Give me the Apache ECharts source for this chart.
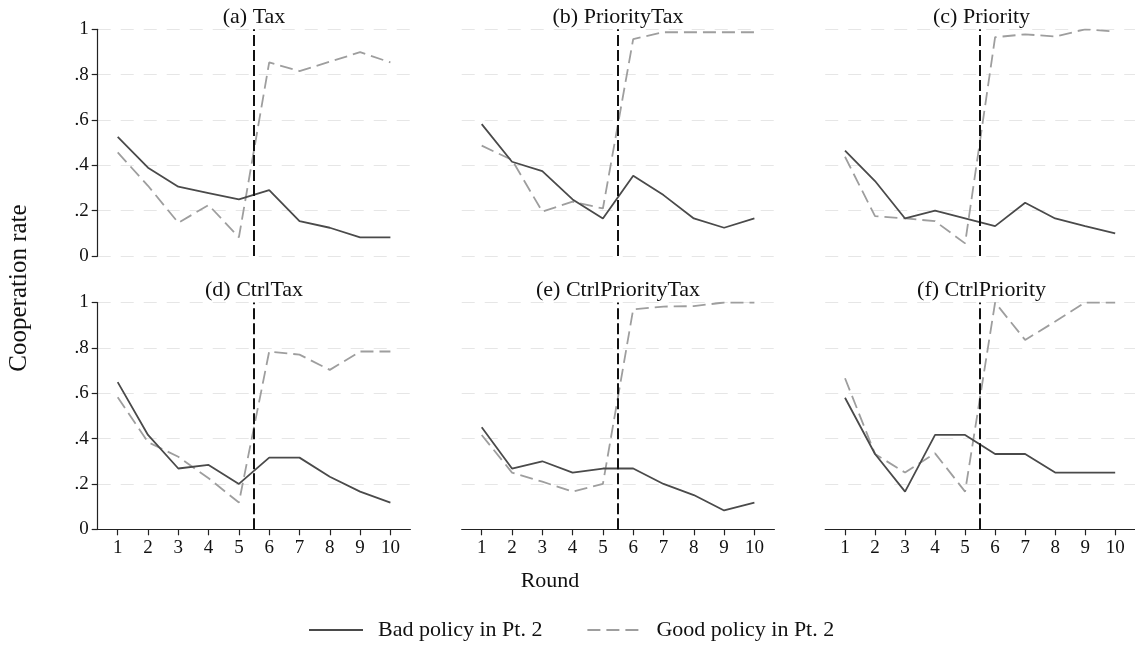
<!DOCTYPE html>
<html>
<head>
<meta charset="utf-8">
<script src="https://cdn.jsdelivr.net/npm/echarts@6/dist/echarts.min.js"></script>
<style>
  html, body { margin: 0; padding: 0; background: #ffffff; }
  #chart { width: 1135px; height: 651px; }
</style>
</head>
<body>
<div id="chart"></div>
<script>
// Cooperation rate by round, six treatments
const rounds = [1, 2, 3, 4, 5, 6, 7, 8, 9, 10];
const yTicks = [0, 0.2, 0.4, 0.6, 0.8, 1];
const panelTitles = ['(a) Tax', '(b) PriorityTax', '(c) Priority',
                     '(d) CtrlTax', '(e) CtrlPriorityTax', '(f) CtrlPriority'];
const seriesNames = ['Bad policy in Pt. 2', 'Good policy in Pt. 2'];
const policySwitchRound = 5.5;

const taxBad      = [0.526, 0.390, 0.306, 0.278, 0.250, 0.291, 0.154, 0.125, 0.083, 0.083];
const taxGood     = [0.457, 0.310, 0.147, 0.225, 0.083, 0.854, 0.816, 0.857, 0.899, 0.854];
const prioTaxBad  = [0.582, 0.416, 0.375, 0.250, 0.166, 0.354, 0.269, 0.166, 0.125, 0.166];
const prioTaxGood = [0.487, 0.424, 0.196, 0.240, 0.210, 0.957, 0.987, 0.987, 0.987, 0.987];
const prioBad     = [0.465, 0.331, 0.166, 0.200, 0.166, 0.132, 0.235, 0.166, 0.132, 0.100];
const prioGood    = [0.438, 0.176, 0.166, 0.154, 0.056, 0.965, 0.978, 0.968, 1.000, 0.990];
const ctrlTaxBad  = [0.649, 0.416, 0.268, 0.284, 0.200, 0.316, 0.316, 0.232, 0.166, 0.118];
const ctrlTaxGood = [0.582, 0.384, 0.320, 0.225, 0.118, 0.784, 0.770, 0.703, 0.784, 0.784];
const ctrlPTBad   = [0.450, 0.268, 0.300, 0.250, 0.268, 0.268, 0.200, 0.151, 0.083, 0.118];
const ctrlPTGood  = [0.416, 0.250, 0.210, 0.166, 0.200, 0.970, 0.982, 0.984, 1.000, 1.000];
const ctrlPrioBad = [0.580, 0.332, 0.166, 0.416, 0.416, 0.332, 0.332, 0.250, 0.250, 0.250];
const ctrlPrioGood= [0.666, 0.332, 0.250, 0.335, 0.166, 1.000, 0.835, 0.916, 1.000, 1.000];

const panelData = [
  [taxBad, taxGood], [prioTaxBad, prioTaxGood], [prioBad, prioGood],
  [ctrlTaxBad, ctrlTaxGood], [ctrlPTBad, ctrlPTGood], [ctrlPrioBad, ctrlPrioGood]
];

const FONT = '"Liberation Serif", "Times New Roman", serif';
const colLeft = [97.7, 461.7, 825.2];
const rowTop = [29.3, 302.5];
const gridW = 312.7, gridH = 226.8;

const grids = [], xAxes = [], yAxes = [], series = [], graphics = [];

function yLabel(v) {
  if (v === 0) return '0';
  if (v === 1) return '1';
  return ('' + Math.round(v * 10) / 10).replace(/^0/, '');
}

for (let p = 0; p < 6; p++) {
  const row = Math.floor(p / 3), col = p % 3;
  const left = colLeft[col], top = rowTop[row];
  grids.push({ left: left, top: top, width: gridW, height: gridH, containLabel: false });

  const bottomRow = row === 1;
  xAxes.push({
    type: 'value', gridIndex: p, min: 0.34, max: 10.66,
    axisLine: { show: bottomRow, onZero: false, lineStyle: { color: '#222', width: 1.2 } },
    axisTick: { show: bottomRow, customValues: rounds, length: 6, inside: false,
                lineStyle: { color: '#222', width: 1.2 } },
    axisLabel: { show: bottomRow, customValues: rounds, margin: 9,
                 fontFamily: FONT, fontSize: 19, color: '#111' },
    splitLine: { show: false }
  });

  const firstCol = col === 0;
  yAxes.push({
    type: 'value', gridIndex: p, min: 0, max: 1, interval: 0.2,
    axisLine: { show: firstCol, lineStyle: { color: '#222', width: 1.2 } },
    axisTick: { show: firstCol, length: 6, lineStyle: { color: '#222', width: 1.2 } },
    axisLabel: { show: firstCol, margin: 9, fontFamily: FONT, fontSize: 19, color: '#111',
                 formatter: yLabel },
    splitLine: { show: true, lineStyle: { color: '#e6e6e6', width: 1.2, type: [13, 10] } }
  });

  const [bad, good] = panelData[p];
  series.push({
    name: seriesNames[0], type: 'line', xAxisIndex: p, yAxisIndex: p,
    data: rounds.map((r, i) => [r, bad[i]]),
    symbol: 'none', z: 3,
    lineStyle: { color: '#4a4a4a', width: 1.8, type: 'solid' },
    itemStyle: { color: '#4a4a4a' }
  });
  series.push({
    name: seriesNames[1], type: 'line', xAxisIndex: p, yAxisIndex: p,
    data: rounds.map((r, i) => [r, good[i]]),
    symbol: 'none', z: 2,
    lineStyle: { color: '#9e9e9e', width: 1.8, type: [13, 6] },
    itemStyle: { color: '#9e9e9e' },
    markLine: {
      silent: true, symbol: ['none', 'none'], label: { show: false },
      lineStyle: { color: '#111', width: 2, type: [11, 4] },
      data: [{ xAxis: policySwitchRound }]
    }
  });

  graphics.push({
    type: 'text', x: left + gridW / 2, y: top - 12.5,
    style: { text: panelTitles[p], font: '22px ' + FONT, fill: '#111',
             textAlign: 'center', textVerticalAlign: 'middle' }
  });
}

// axis titles
graphics.push({
  type: 'text', x: 550, y: 581,
  style: { text: 'Round', font: '22px ' + FONT, fill: '#111', textAlign: 'center', textVerticalAlign: 'middle' }
});
graphics.push({
  type: 'text', x: 19, y: 288, rotation: Math.PI / 2,
  style: { text: 'Cooperation rate', font: '25px ' + FONT, fill: '#111', textAlign: 'center', textVerticalAlign: 'middle' }
});

const chart = echarts.init(document.getElementById('chart'), null, { renderer: 'canvas' });
chart.setOption({
  backgroundColor: '#ffffff',
  animation: false,
  grid: grids,
  xAxis: xAxes,
  yAxis: yAxes,
  series: series,
  graphic: graphics,
  legend: {
    data: seriesNames,
    left: 303, top: 614,
    itemWidth: 54, itemHeight: 14, itemGap: 44,
    itemStyle: { color: 'rgba(0,0,0,0)', borderWidth: 0 },
    textStyle: { fontFamily: FONT, fontSize: 22, color: '#111', padding: [0, 0, 0, 10] }
  }
});
</script>
</body>
</html>
